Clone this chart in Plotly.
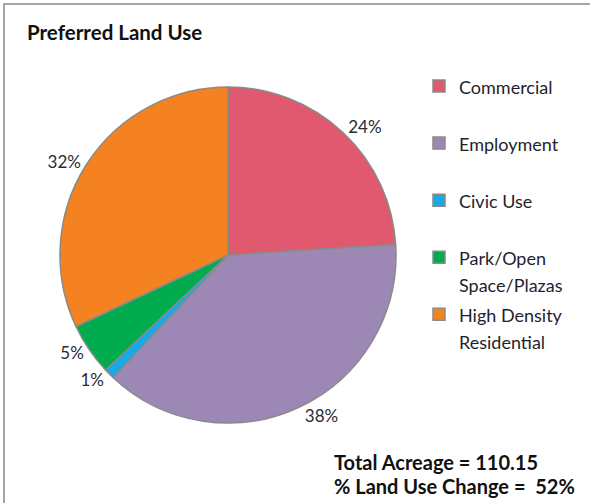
import plotly.graph_objects as go

W, H = 590, 503

categories = ["Commercial", "Employment", "Civic Use", "Park/Open Space/Plazas", "High Density Residential"]
legend_lines = [["Commercial"], ["Employment"], ["Civic Use"], ["Park/Open", "Space/Plazas"], ["High Density", "Residential"]]
values = [24, 38, 1, 5, 32]
colors = ["#E0596E", "#9C87B5", "#17A9E8", "#00AC4E", "#F58220"]
title_text = "Preferred Land Use"
total_text = "Total Acreage = 110.15"
change_text = "% Land Use Change =  52%"


def px(x):
    return x / W


def py(y):
    return 1 - y / H


def legend_label(lines):
    # two text lines per entry so that the entries are spaced like the original
    styled = ["<span style='font-size:18px'>" + s + "</span>" for s in lines]
    while len(styled) < 2:
        styled.append(" ")
    return "<br>".join(styled)


labels = [legend_label(l) for l in legend_lines]

fig = go.Figure(go.Pie(
    labels=labels,
    values=values,
    sort=False,
    direction="clockwise",
    rotation=0,
    marker=dict(colors=colors, line=dict(color="#8A8A8A", width=1.5)),
    textinfo="percent",
    texttemplate="%{percent:.0%}",
    textposition="outside",
    outsidetextfont=dict(family="Lato", size=17, color="#2A2A3A"),
    domain=dict(x=[px(60), px(396)], y=[py(423), py(87)]),
    customdata=categories,
    hovertemplate="%{customdata}: %{percent}<extra></extra>",
))

fig.update_layout(
    width=W, height=H,
    margin=dict(l=0, r=0, t=0, b=0),
    paper_bgcolor="white",
    plot_bgcolor="white",
    showlegend=True,
    legend=dict(
        x=px(419), y=py(66), xanchor="left", yanchor="top",
        font=dict(family="Lato", size=20.8, color="#1F1F2E"),
        valign="top",
        bgcolor="rgba(0,0,0,0)",
    ),
    annotations=[
        dict(text="<b>" + title_text + "</b>", x=px(25), y=py(32), xref="paper", yref="paper",
             xanchor="left", yanchor="middle", showarrow=False,
             font=dict(family="Lato", size=20.5, color="#111111")),
        dict(text="<b>" + total_text + "</b>", x=px(332), y=py(462), xref="paper", yref="paper",
             xanchor="left", yanchor="middle", showarrow=False,
             font=dict(family="Lato", size=20, color="#111111")),
        dict(text="<b>" + change_text + "</b>", x=px(332), y=py(486), xref="paper", yref="paper",
             xanchor="left", yanchor="middle", showarrow=False,
             font=dict(family="Lato", size=20, color="#111111")),
    ],
    shapes=[
        dict(type="line", xref="paper", yref="paper", x0=px(4), x1=px(4), y0=py(4), y1=py(503),
             line=dict(color="#A6A6A6", width=2)),
        dict(type="line", xref="paper", yref="paper", x0=px(3), x1=px(590), y0=py(4), y1=py(4),
             line=dict(color="#A6A6A6", width=2)),
    ],
)

fig.write_html("out.html")
